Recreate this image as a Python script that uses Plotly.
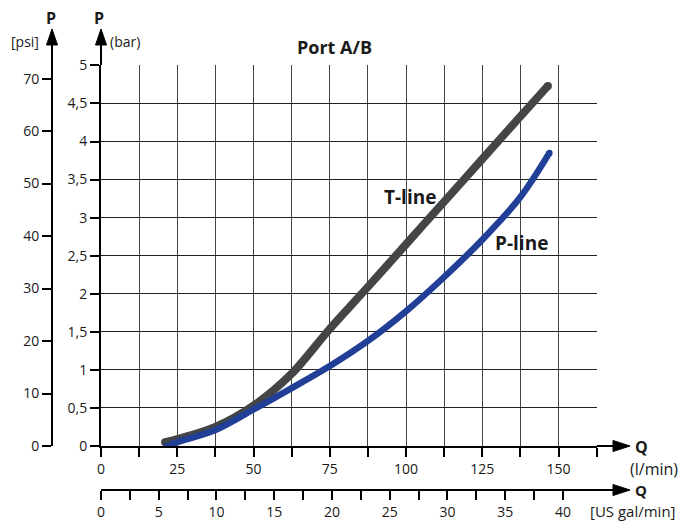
import plotly.graph_objects as go

# flow (l/min) and pressure drop (bar)
q_t = [21, 25, 37.5, 50, 62.5, 75, 87.5, 100, 112.5, 125, 137.5, 146.5]
p_t = [0.05, 0.09, 0.25, 0.53, 0.95, 1.54, 2.09, 2.65, 3.21, 3.77, 4.33, 4.73]
q_p = [21.5, 25, 37.5, 50, 62.5, 75, 87.5, 100, 112.5, 125, 137.5, 147]
p_p = [0.0, 0.05, 0.21, 0.48, 0.76, 1.05, 1.38, 1.77, 2.22, 2.71, 3.27, 3.85]

lmin_ticks = [0, 12.5, 25, 37.5, 50, 62.5, 75, 87.5, 100, 112.5, 125, 137.5, 150, 162.5]
lmin_labels = ['0', '', '25', '', '50', '', '75', '', '100', '', '125', '', '150', '']
gal_ticks = [0, 2.5, 5, 7.5, 10, 12.5, 15, 17.5, 20, 22.5, 25, 27.5, 30, 32.5, 35, 37.5, 40]
gal_labels = ['0', '', '5', '', '10', '', '15', '', '20', '', '25', '', '30', '', '35', '', '40']
bar_ticks = [0, 0.5, 1, 1.5, 2, 2.5, 3, 3.5, 4, 4.5, 5]
bar_labels = ['0', '0,5', '1', '1,5', '2', '2,5', '3', '3,5', '4', '4,5', '5']
psi_ticks = [0, 10, 20, 30, 40, 50, 60, 70]

L_PER_GAL = 3.78541
BAR_PER_PSI = 0.0689476
Q_MAX = 162.6
P_MAX = 5.005

W, H = 684, 521
ML, MR, MT, MB = 40, 87, 65, 31
PW = W - ML - MR
PH = H - MT - MB


def px(x):
    return (x - ML) / PW


def py(y):
    return (H - MB - y) / PH


FONT = 'Open Sans'
INK = '#1a1a1a'
T_COL, P_COL = '#454545', '#223f97'

fig = go.Figure()
fig.add_trace(go.Scatter(x=q_t, y=p_t, mode='lines', line_shape='spline',
                         line=dict(color=T_COL, width=8, smoothing=0.9),
                         name='T-line'))
fig.add_trace(go.Scatter(x=q_p, y=p_p, mode='lines', line_shape='spline',
                         line=dict(color=P_COL, width=6.5, smoothing=0.9),
                         name='P-line'))
# round line ends
fig.add_trace(go.Scatter(x=[q_t[0], q_t[-1]], y=[p_t[0], p_t[-1]], mode='markers',
                         marker=dict(color=T_COL, size=8, line_width=0), hoverinfo='skip'))
fig.add_trace(go.Scatter(x=[q_p[0], q_p[-1]], y=[p_p[0], p_p[-1]], mode='markers',
                         marker=dict(color=P_COL, size=6.5, line_width=0), hoverinfo='skip'))
# invisible traces so the secondary axes get drawn
fig.add_trace(go.Scatter(x=[0], y=[0], xaxis='x2', yaxis='y', mode='markers',
                         marker=dict(opacity=0), hoverinfo='skip'))
fig.add_trace(go.Scatter(x=[0], y=[0], xaxis='x', yaxis='y2', mode='markers',
                         marker=dict(opacity=0), hoverinfo='skip'))

x0 = px(101)
y0 = py(446)
tickfont = dict(family=FONT, size=14, color=INK)
common = dict(tickmode='array', ticks='outside', ticklen=9, tickwidth=1.5,
              tickcolor='black', tickfont=tickfont, showline=True,
              linecolor='black', linewidth=2, zeroline=False, automargin=False)

fig.update_layout(
    width=W, height=H, showlegend=False,
    margin=dict(l=ML, r=MR, t=MT, b=MB, autoexpand=False),
    plot_bgcolor='white', paper_bgcolor='white',
    xaxis=dict(domain=[x0, 1], range=[0, Q_MAX], tickvals=lmin_ticks,
               ticktext=lmin_labels, showgrid=True, gridcolor='#444444',
               gridwidth=1, **common),
    xaxis2=dict(domain=[x0, 1], range=[0, Q_MAX / L_PER_GAL], overlaying='x',
                anchor='free', position=0, side='bottom', tickvals=gal_ticks,
                ticktext=gal_labels, showgrid=False, **common),
    yaxis=dict(domain=[y0, 1], range=[0, P_MAX], tickvals=bar_ticks,
               ticktext=bar_labels, showgrid=True, gridcolor='#222222',
               gridwidth=1, **common),
    yaxis2=dict(domain=[y0, 1], range=[0, P_MAX / BAR_PER_PSI], overlaying='y',
                anchor='free', position=px(52), side='left', tickvals=psi_ticks,
                showgrid=False, **common),
)


def seg(xa, ya, xb, yb):
    fig.add_shape(type='line', xref='paper', yref='paper',
                  x0=px(xa), y0=py(ya), x1=px(xb), y1=py(yb),
                  line=dict(color='black', width=2))


def head(pts):
    path = 'M ' + ' L '.join(f'{px(a)},{py(b)}' for a, b in pts) + ' Z'
    fig.add_shape(type='path', xref='paper', yref='paper', path=path,
                  fillcolor='black', line=dict(color='black', width=1))


# axis arrow extensions
seg(597, 446, 615, 446)
head([(613, 440.5), (630, 446), (613, 451.5)])
seg(597, 490, 615, 490)
head([(613, 484.5), (630, 490), (613, 495.5)])
seg(101, 65, 101, 44)
head([(95.5, 45), (101, 29), (106.5, 45)])
seg(52, 65, 52, 44)
head([(46.5, 45), (52, 29), (57.5, 45)])


def label(x, y, text, size=14, bold=False):
    t = f'<b>{text}</b>' if bold else text
    fig.add_annotation(x=px(x), y=py(y), xref='paper', yref='paper', text=t,
                       showarrow=False, xanchor='center', yanchor='middle',
                       borderpad=0, font=dict(family=FONT, size=size, color=INK))


label(51, 18, 'P', 16, True)
label(99, 18, 'P', 16, True)
label(25, 42, '[psi]', 14)
label(125, 42, '(bar)', 14)
label(334, 47, 'Port A/B', 18, True)
label(641, 447, 'Q', 16, True)
label(654, 469, '(l/min)', 16)
label(641, 490, 'Q', 15, True)
label(633, 511, '[US gal/min]', 15)

label(410, 197, 'T-line', 19, True)
label(521, 243, 'P-line', 19, True)

fig.write_html('out.html', config={'displayModeBar': False},
               post_script="document.body.style.margin='0px';")
